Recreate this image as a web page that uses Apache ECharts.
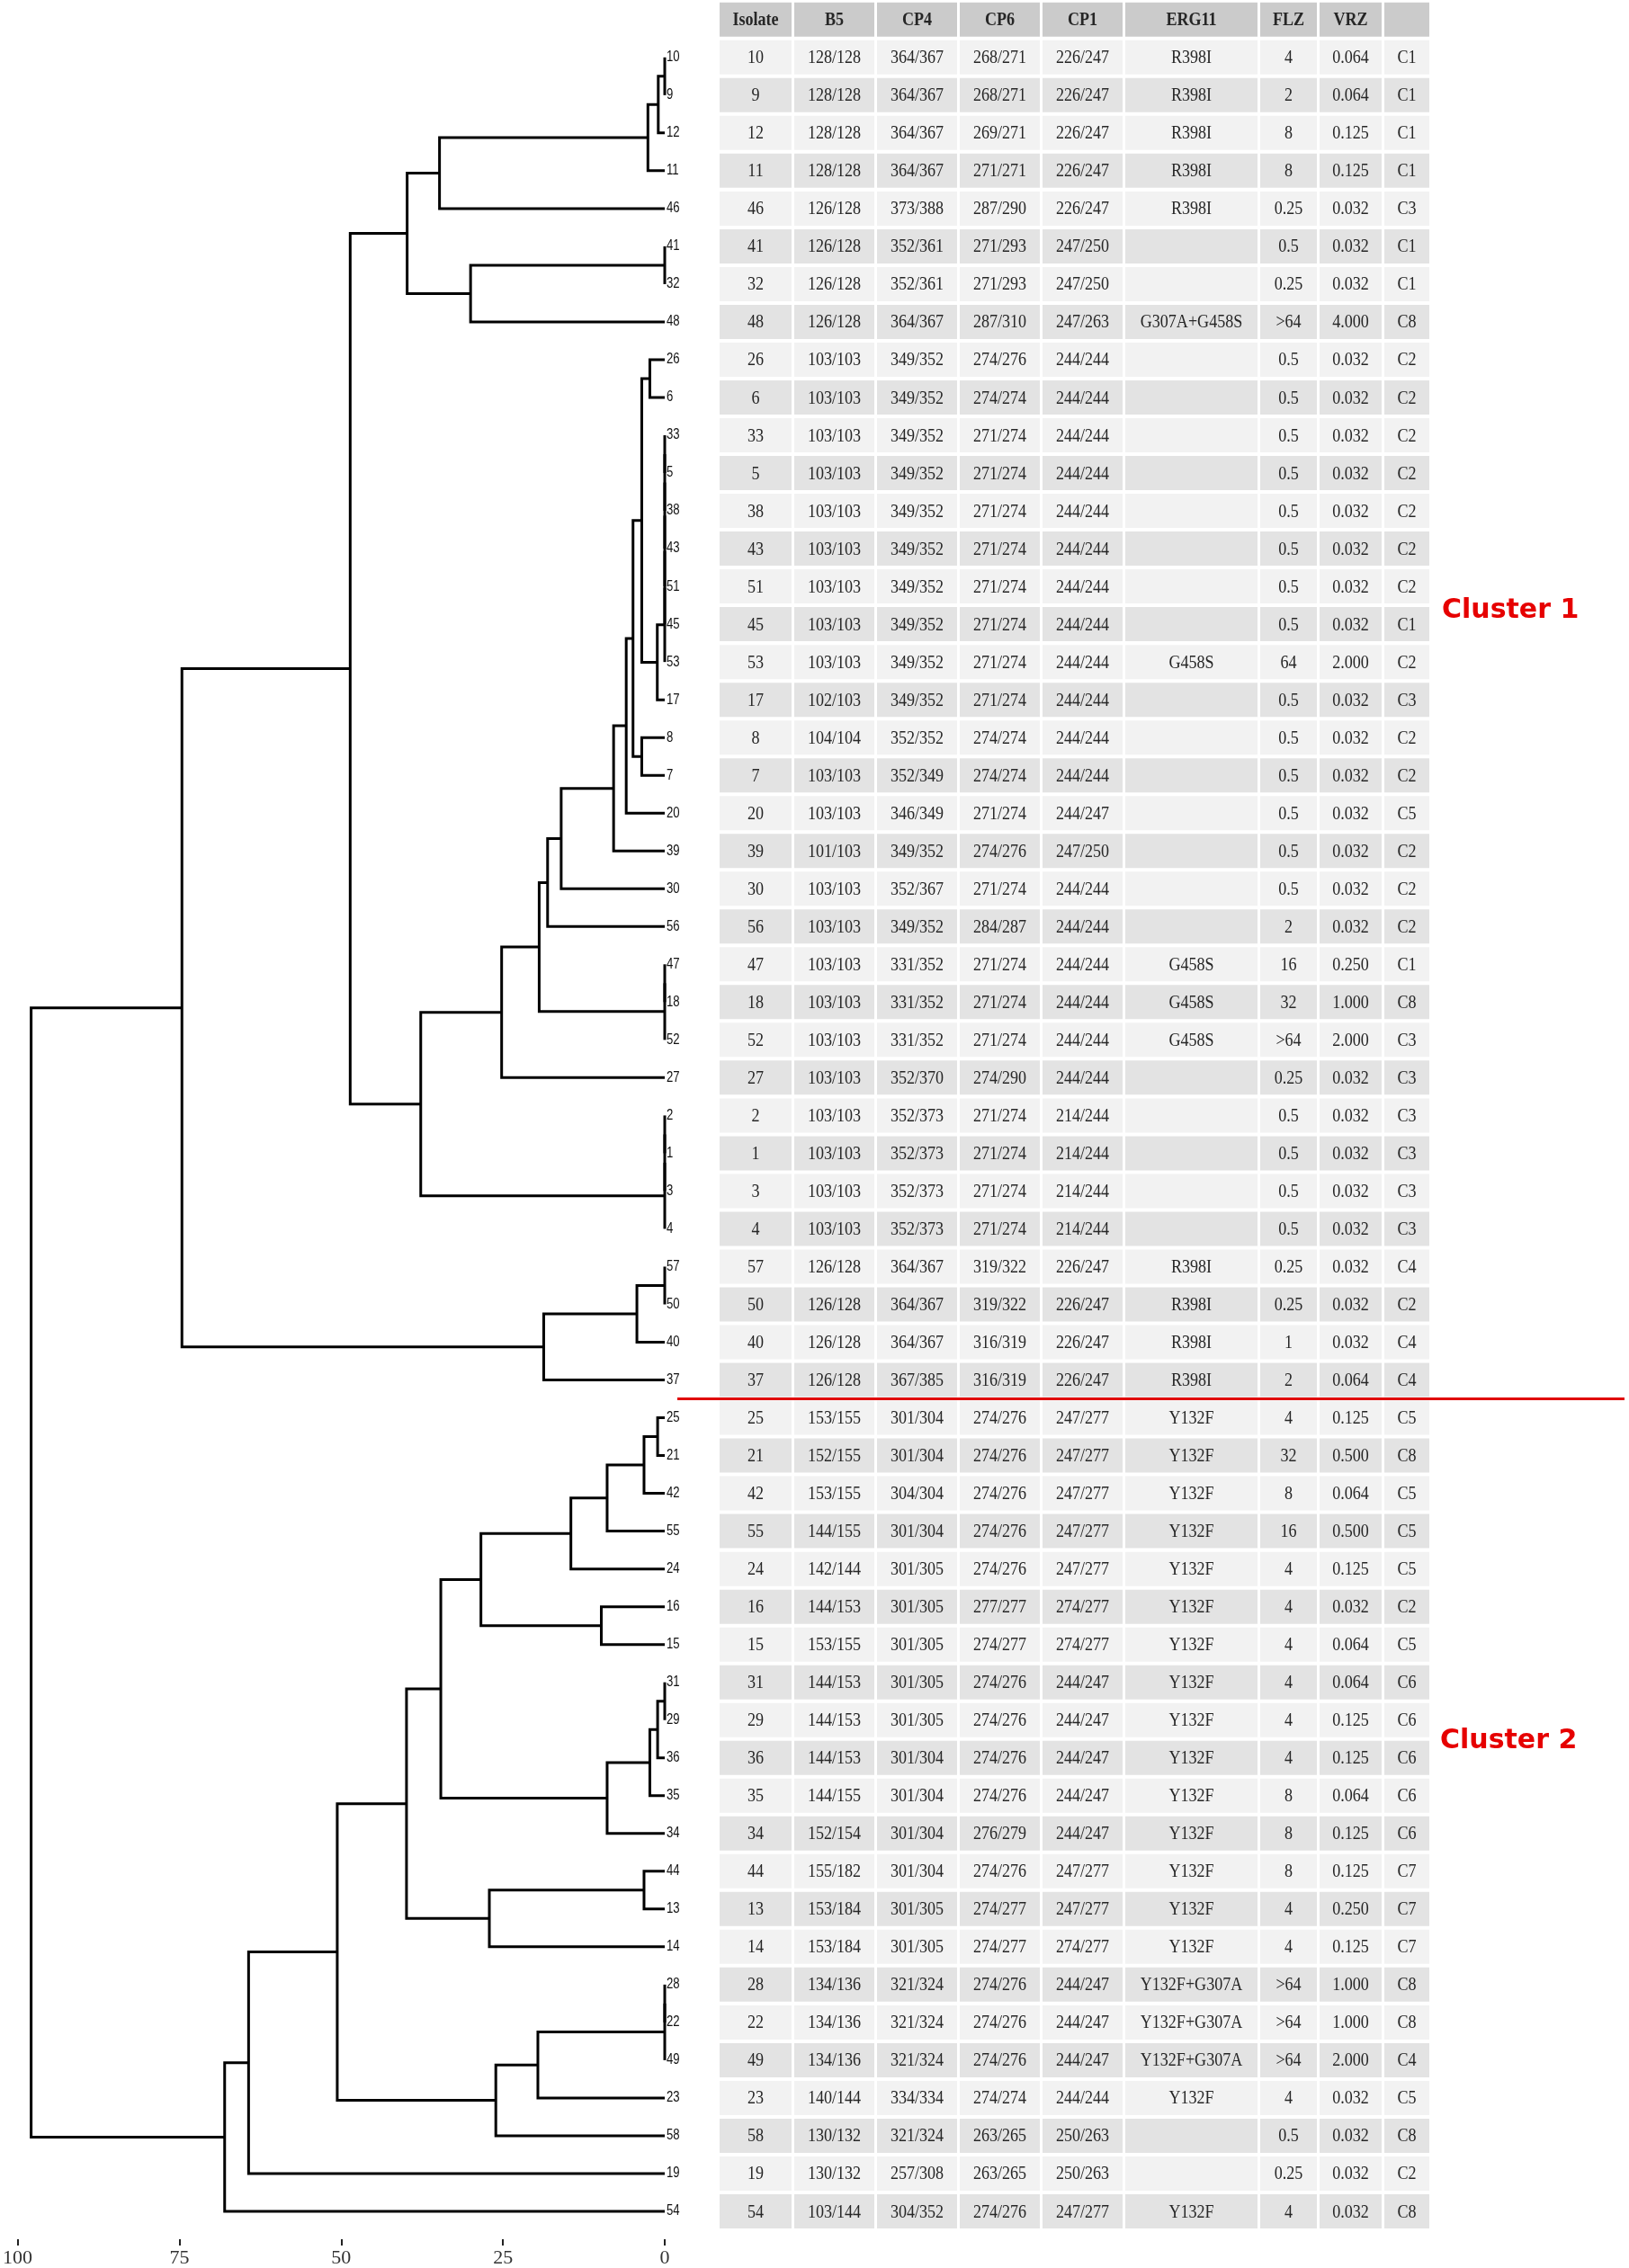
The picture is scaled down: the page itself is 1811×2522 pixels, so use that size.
<!DOCTYPE html>
<html>
<head>
<meta charset="utf-8">
<script src="https://cdn.jsdelivr.net/npm/echarts@6/dist/echarts.min.js"></script>
<style>
  html, body { margin: 0; padding: 0; background: #fff; }
  #main { width: 1811px; height: 2522px; }
</style>
</head>
<body>
<div id="main"></div>
<script>
// leaves top to bottom (also the table rows)
const leafOrder = ['10','9','12','11','46','41','32','48','26','6','33','5','38','43','51','45','53','17','8','7','20','39','30','56','47','18','52','27','2','1','3','4','57','50','40','37',
  '25','21','42','55','24','16','15','31','29','36','35','34','44','13','14','28','22','49','23','58','19','54'];

// merges: a string is a leaf, a number points to an earlier merge
const mergeLeft   = ['10', 0, 1, 2, '41', 4, 3, '26', '33', 8, 9, 10, 11, 12, 13, 7, '8', 15, 17, 18, 19, 20, '47', 22, 21, 24, '2', 26, 27, 25, 6, '57', 31, 32, 30,
  '25', 35, 36, 37, '16', 38, '31', 41, 42, 43, 40, '44', 46, 45, '28', 49, 50, 51, 48, 53, 54, 34];
const mergeRight  = ['9', '12', '11', '46', '32', '48', 5, '6', '5', '38', '43', '51', '45', '53', '17', 14, '7', 16, '20', '39', '30', '56', '18', '52', 23, '27', '1', '3', '4', 28, 29, '50', '40', '37', 33,
  '21', '42', '55', '24', '15', 39, '29', '36', '35', '34', 44, '13', '14', 47, '22', '49', '23', '58', 52, '19', '54', 55];
const mergeHeight = [0, 1.0, 2.6, 34.8, 0, 30.0, 39.8, 2.3, 0, 0, 0, 0, 0, 0, 1.15, 3.55, 3.55, 4.9, 5.95, 7.9, 16.0, 18.1, 0, 0, 19.4, 25.2, 0, 0, 0, 37.7, 48.6, 0, 4.3, 18.7, 74.6,
  1.1, 3.2, 8.9, 14.5, 9.8, 28.4, 0, 1.1, 2.3, 8.9, 34.6, 3.2, 27.1, 39.9, 0, 0, 19.6, 26.1, 50.6, 64.3, 68.0, 97.9];

const xTicks = [0, 25, 50, 75, 100];

// table
const tableHeader = ['Isolate', 'B5', 'CP4', 'CP6', 'CP1', 'ERG11', 'FLZ', 'VRZ', ''];
const colB5 = ['128/128','128/128','128/128','128/128','126/128','126/128','126/128','126/128','103/103','103/103','103/103','103/103','103/103','103/103','103/103','103/103','103/103','102/103','104/104','103/103','103/103','101/103','103/103','103/103','103/103','103/103','103/103','103/103','103/103','103/103','103/103','103/103','126/128','126/128','126/128','126/128',
  '153/155','152/155','153/155','144/155','142/144','144/153','153/155','144/153','144/153','144/153','144/155','152/154','155/182','153/184','153/184','134/136','134/136','134/136','140/144','130/132','130/132','103/144'];
const colCP4 = ['364/367','364/367','364/367','364/367','373/388','352/361','352/361','364/367','349/352','349/352','349/352','349/352','349/352','349/352','349/352','349/352','349/352','349/352','352/352','352/349','346/349','349/352','352/367','349/352','331/352','331/352','331/352','352/370','352/373','352/373','352/373','352/373','364/367','364/367','364/367','367/385',
  '301/304','301/304','304/304','301/304','301/305','301/305','301/305','301/305','301/305','301/304','301/304','301/304','301/304','301/305','301/305','321/324','321/324','321/324','334/334','321/324','257/308','304/352'];
const colCP6 = ['268/271','268/271','269/271','271/271','287/290','271/293','271/293','287/310','274/276','274/274','271/274','271/274','271/274','271/274','271/274','271/274','271/274','271/274','274/274','274/274','271/274','274/276','271/274','284/287','271/274','271/274','271/274','274/290','271/274','271/274','271/274','271/274','319/322','319/322','316/319','316/319',
  '274/276','274/276','274/276','274/276','274/276','277/277','274/277','274/276','274/276','274/276','274/276','276/279','274/276','274/277','274/277','274/276','274/276','274/276','274/274','263/265','263/265','274/276'];
const colCP1 = ['226/247','226/247','226/247','226/247','226/247','247/250','247/250','247/263','244/244','244/244','244/244','244/244','244/244','244/244','244/244','244/244','244/244','244/244','244/244','244/244','244/247','247/250','244/244','244/244','244/244','244/244','244/244','244/244','214/244','214/244','214/244','214/244','226/247','226/247','226/247','226/247',
  '247/277','247/277','247/277','247/277','247/277','274/277','274/277','244/247','244/247','244/247','244/247','244/247','247/277','247/277','274/277','244/247','244/247','244/247','244/244','250/263','250/263','247/277'];
const colERG11 = ['R398I','R398I','R398I','R398I','R398I','','','G307A+G458S','','','','','','','','','G458S','','','','','','','','G458S','G458S','G458S','','','','','','R398I','R398I','R398I','R398I',
  'Y132F','Y132F','Y132F','Y132F','Y132F','Y132F','Y132F','Y132F','Y132F','Y132F','Y132F','Y132F','Y132F','Y132F','Y132F','Y132F+G307A','Y132F+G307A','Y132F+G307A','Y132F','','','Y132F'];
const colFLZ = ['4','2','8','8','0.25','0.5','0.25','>64','0.5','0.5','0.5','0.5','0.5','0.5','0.5','0.5','64','0.5','0.5','0.5','0.5','0.5','0.5','2','16','32','>64','0.25','0.5','0.5','0.5','0.5','0.25','0.25','1','2',
  '4','32','8','16','4','4','4','4','4','4','8','8','8','4','4','>64','>64','>64','4','0.5','0.25','4'];
const colVRZ = ['0.064','0.064','0.125','0.125','0.032','0.032','0.032','4.000','0.032','0.032','0.032','0.032','0.032','0.032','0.032','0.032','2.000','0.032','0.032','0.032','0.032','0.032','0.032','0.032','0.250','1.000','2.000','0.032','0.032','0.032','0.032','0.032','0.032','0.032','0.032','0.064',
  '0.125','0.500','0.064','0.500','0.125','0.032','0.064','0.064','0.125','0.125','0.064','0.125','0.125','0.250','0.125','1.000','1.000','2.000','0.032','0.032','0.032','0.032'];
const colClade = ['C1','C1','C1','C1','C3','C1','C1','C8','C2','C2','C2','C2','C2','C2','C2','C1','C2','C3','C2','C2','C5','C2','C2','C2','C1','C8','C3','C3','C3','C3','C3','C3','C4','C2','C4','C4',
  'C5','C8','C5','C5','C5','C2','C5','C6','C6','C6','C6','C6','C7','C7','C7','C8','C8','C4','C5','C8','C2','C8'];

const clusterLabels = ['Cluster 1', 'Cluster 2'];

// ---- dendrogram layout ----
const leafIndex = {};
leafOrder.forEach((name, i) => { leafIndex[name] = i; });
const nodeY = [], nodeH = [];
function refY(r) { return typeof r === 'string' ? leafIndex[r] : nodeY[r]; }
function refH(r) { return typeof r === 'string' ? 0 : nodeH[r]; }
const branchData = mergeHeight.map((h, i) => {
  const ya = refY(mergeLeft[i]), yb = refY(mergeRight[i]);
  const row = [h, ya, yb, refH(mergeLeft[i]), refH(mergeRight[i])];
  nodeY[i] = (ya + yb) / 2;
  nodeH[i] = h;
  return row;
});

const tableCols = [colB5, colCP4, colCP6, colCP1, colERG11, colFLZ, colVRZ, colClade];
// column pixel edges of the table
const colEdges = [[800, 880], [883, 972], [975, 1064], [1067, 1156], [1159, 1248], [1251, 1398], [1401, 1464], [1467, 1536], [1539, 1589]];
const serif = '"Liberation Serif", "Times New Roman", serif';

const chart = echarts.init(document.getElementById('main'), null, { renderer: 'canvas' });

chart.setOption({
  backgroundColor: '#ffffff',
  animation: false,
  grid: { left: 16, right: 1072, top: 42.8, bottom: 39.2 },
  xAxis: {
    type: 'value', min: 0, max: 100, interval: 25, inverse: true,
    position: 'bottom',
    offset: 10,
    splitLine: { show: false },
    axisLine: { show: false, onZero: false },
    axisTick: { show: true, inside: false, length: 7, lineStyle: { color: '#222', width: 2 } },
    axisLabel: {
      margin: 10, fontSize: 22, color: '#333', fontFamily: serif,
      formatter: v => xTicks.indexOf(v) >= 0 ? String(v) : ''
    }
  },
  yAxis: { type: 'value', min: -0.5, max: 57.5, inverse: true, show: false },
  graphic: [
    { type: 'text', left: 1603, top: 664, style: { text: clusterLabels[0], fill: '#e60000', font: 'bold 30px "DejaVu Sans", sans-serif' } },
    { type: 'text', left: 1601, top: 1921, style: { text: clusterLabels[1], fill: '#e60000', font: 'bold 30px "DejaVu Sans", sans-serif' } }
  ],
  series: [
    {
      // table
      type: 'custom',
      data: [-1].concat(leafOrder.map((_, i) => i)),
      encode: { y: 0 },
      z: 1,
      renderItem(params, api) {
        const row = api.value(0);
        const cy = api.coord([0, row])[1];
        const isHeader = row < 0;
        const fillColor = isHeader ? '#cbcbcb' : (row % 2 === 0 ? '#f2f2f2' : '#e3e3e3');
        const children = [];
        colEdges.forEach((e, c) => {
          children.push({
            type: 'rect',
            shape: { x: e[0], y: cy - 19, width: e[1] - e[0], height: 38 },
            style: { fill: fillColor }
          });
          const txt = isHeader ? tableHeader[c] : (c === 0 ? leafOrder[row] : tableCols[c - 1][row]);
          if (txt) {
            children.push({
              type: 'text',
              x: (e[0] + e[1]) / 2, y: cy + 1,
              scaleX: 0.86,
              style: {
                text: txt, fill: '#262626',
                font: (isHeader ? 'bold ' : '') + '21px ' + serif,
                align: 'center', verticalAlign: 'middle',
                textAlign: 'center', textVerticalAlign: 'middle'
              }
            });
          }
        });
        return { type: 'group', children };
      }
    },
    {
      // dendrogram branches
      type: 'custom',
      data: branchData,
      encode: { x: [0, 3, 4], y: [1, 2] },
      z: 3,
      renderItem(params, api) {
        const h = api.value(0), ya = api.value(1), yb = api.value(2);
        const pts = [
          api.coord([api.value(3), ya]),
          api.coord([h, ya]),
          api.coord([h, yb]),
          api.coord([api.value(4), yb])
        ];
        return {
          type: 'polyline',
          shape: { points: pts },
          style: { stroke: '#000', lineWidth: 3, fill: null, lineJoin: 'miter' }
        };
      }
    },
    {
      // leaf labels
      type: 'custom',
      data: leafOrder.map((_, i) => [0, i]),
      encode: { x: 0, y: 1 },
      z: 4,
      renderItem(params, api) {
        const p = api.coord([0, api.value(1)]);
        return {
          type: 'text',
          x: p[0] + 2, y: p[1],
          scaleX: 0.82,
          style: {
            text: leafOrder[params.dataIndex], fill: '#111',
            font: '16px "Liberation Sans", Arial, sans-serif',
            align: 'left', verticalAlign: 'middle',
            textAlign: 'left', textVerticalAlign: 'middle'
          }
        };
      }
    },
    {
      // separator between the two clusters
      type: 'custom',
      data: [[0, 35.5]],
      encode: { x: 0, y: 1 },
      z: 5,
      renderItem(params, api) {
        const p = api.coord([api.value(0), api.value(1)]);
        return {
          type: 'line',
          shape: { x1: p[0] + 14, y1: p[1], x2: 1806, y2: p[1] },
          style: { stroke: '#e00000', lineWidth: 3 }
        };
      }
    }
  ]
});
</script>
</body>
</html>
